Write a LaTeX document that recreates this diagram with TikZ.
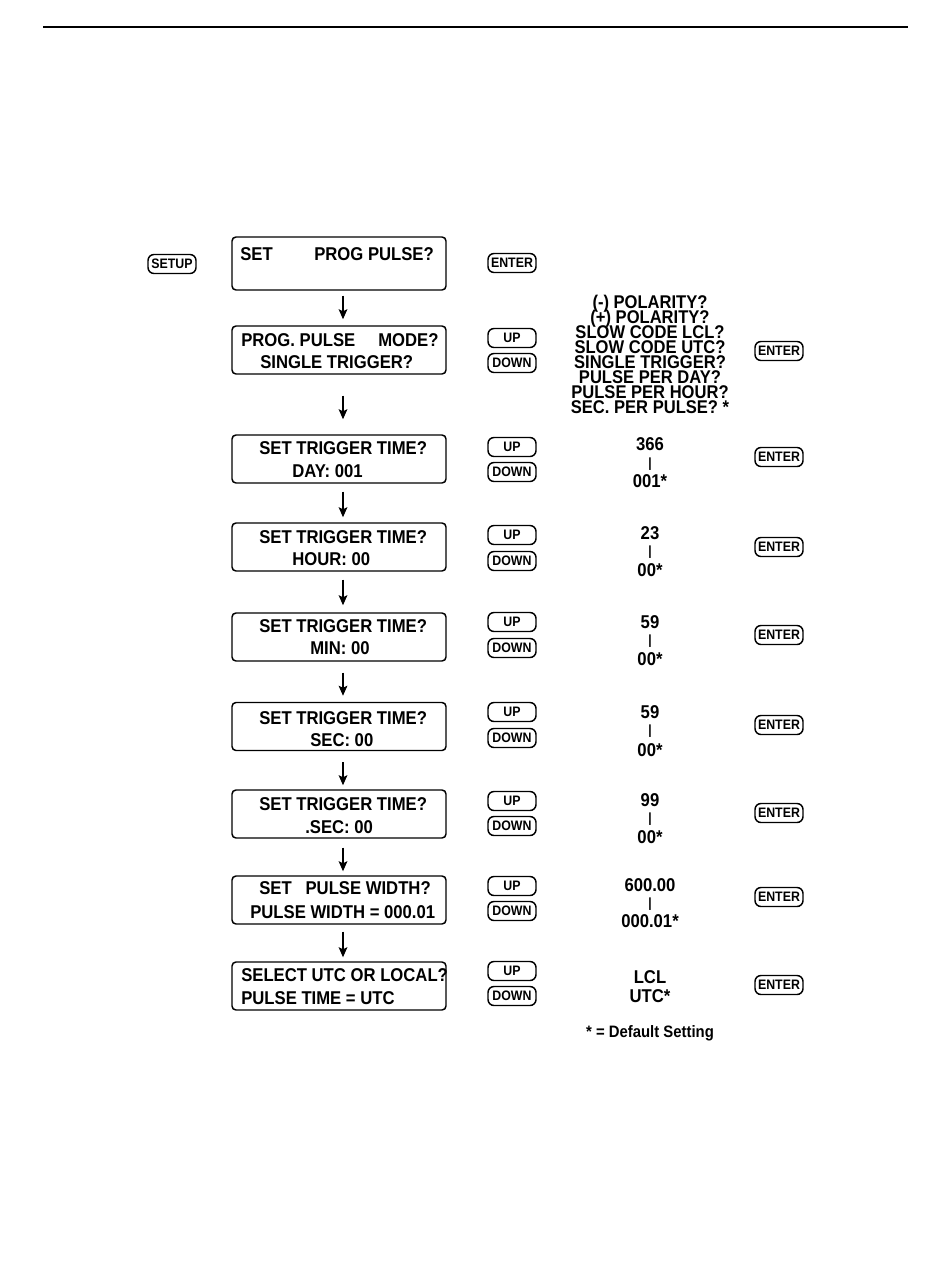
\documentclass[tikz,border=0pt]{standalone}
\usepackage{fontspec}
\setmainfont{Liberation Sans}[FakeStretch=0.9]
\usetikzlibrary{arrows.meta}
\tikzset{
  lcd/.style={draw, line width=1.1pt, rounded corners=3pt, minimum width=160.5pt, minimum height=36pt, inner sep=0pt},
  btn/.style={draw, line width=1.1pt, rounded corners=4.5pt, minimum width=36pt, minimum height=14.25pt, inner sep=0pt, font=\bfseries\fontsize{10.3}{11}\selectfont},
  txt/.style={inner sep=0pt, anchor=base west, font=\bfseries\fontsize{13.9}{15}\selectfont},
  val/.style={inner sep=0pt, anchor=base, font=\bfseries\fontsize{13.9}{15}\selectfont},
  modetxt/.style={inner sep=0pt, anchor=base, text height=9pt, text depth=1.5pt, font=\bfseries\fontsize{13.8}{14}\selectfont},
  bar/.style={inner sep=0pt, anchor=center, font=\bfseries\fontsize{10}{11}\selectfont},
  arr/.style={line width=1.1pt, -{Stealth[length=7.5pt,width=6.5pt,inset=1.5pt]}}
}
\begin{document}
\begin{tikzpicture}[x=0.75pt,y=-0.75pt]
\useasboundingbox (0,0) rectangle (950,1284);
\coordinate (hl) at (43,27);
\coordinate (hr) at (908,27);
\draw[line width=1.5pt] (hl) -- (hr);

% LCD boxes
\node[lcd, minimum height=39.75pt] (b1) at (339,263.5) {};
\node[lcd] (b2) at (339,350) {};
\node[lcd] (b3) at (339,459) {};
\node[lcd] (b4) at (339,547) {};
\node[lcd] (b5) at (339,637) {};
\node[lcd] (b6) at (339,726.5) {};
\node[lcd] (b7) at (339,814) {};
\node[lcd] (b8) at (339,900) {};
\node[lcd] (b9) at (339,986) {};

% box texts
\node[txt] (t1a) at (240,260) {SET};
\node[txt] (t1b) at (314,260) {PROG PULSE?};
\node[txt] (t2a) at (241,346) {PROG. PULSE};
\node[txt] (t2b) at (378,346) {MODE?};
\node[txt] (t2c) at (260,368) {SINGLE TRIGGER?};
\node[txt] (t3a) at (259,454) {SET TRIGGER TIME?};
\node[txt] (t3b) at (292,477) {DAY: 001};
\node[txt] (t4a) at (259,543) {SET TRIGGER TIME?};
\node[txt] (t4b) at (292,565) {HOUR: 00};
\node[txt] (t5a) at (259,632) {SET TRIGGER TIME?};
\node[txt] (t5b) at (310,654) {MIN: 00};
\node[txt] (t6a) at (259,724) {SET TRIGGER TIME?};
\node[txt] (t6b) at (310,746) {SEC: 00};
\node[txt] (t7a) at (259,810) {SET TRIGGER TIME?};
\node[txt] (t7b) at (305,833) {.SEC: 00};
\node[txt] (t8a) at (259,894) {SET\ \ \ PULSE WIDTH?};
\node[txt] (t8b) at (250,918) {PULSE WIDTH = 000.01};
\node[txt] (t9a) at (241,981) {SELECT UTC OR LOCAL?};
\node[txt] (t9b) at (241,1004) {PULSE TIME = UTC};

% arrows
\draw[arr, shorten <=3.75pt, shorten >=4.5pt] ([xshift=3pt]b1.south) -- ([xshift=3pt]b2.north);
\draw[arr, shorten <=15.75pt, shorten >=11.25pt] ([xshift=3pt]b2.south) -- ([xshift=3pt]b3.north);
\draw[arr, shorten <=6pt, shorten >=3.75pt] ([xshift=3pt]b3.south) -- ([xshift=3pt]b4.north);
\draw[arr, shorten <=6pt, shorten >=5.25pt] ([xshift=3pt]b4.south) -- ([xshift=3pt]b5.north);
\draw[arr, shorten <=8.25pt, shorten >=4.5pt] ([xshift=3pt]b5.south) -- ([xshift=3pt]b6.north);
\draw[arr, shorten <=8.25pt, shorten >=3pt] ([xshift=3pt]b6.south) -- ([xshift=3pt]b7.north);
\draw[arr, shorten <=6.75pt, shorten >=3pt] ([xshift=3pt]b7.south) -- ([xshift=3pt]b8.north);
\draw[arr, shorten <=5.25pt, shorten >=3pt] ([xshift=3pt]b8.south) -- ([xshift=3pt]b9.north);

% buttons
\node[btn] (setup) at (172,264) {SETUP};
\node[btn] (e1) at (512,263) {ENTER};
\foreach \n/\u/\d in {2/338/363, 3/447/472, 4/535/561, 5/622/648, 6/712/738, 7/801/826, 8/886/911, 9/971/996}{
  \node[btn] (up\n) at (512,\u) {UP};
  \node[btn] (dn\n) at (512,\d) {DOWN};
}
\foreach \n/\y in {2/351, 3/457, 4/547, 5/635, 6/725, 7/813, 8/897, 9/985}{
  \node[btn] (en\n) at (779,\y) {ENTER};
}

% mode list
\foreach \t [count=\i] in {(-) POLARITY?, (+) POLARITY?, SLOW CODE LCL?, SLOW CODE UTC?, SINGLE TRIGGER?, PULSE PER DAY?, PULSE PER HOUR?, SEC. PER PULSE? *}{
  \node[modetxt] (m\i) at (650,{293.5+15*\i}) {\t};
}

% value ranges
\foreach \n/\hi/\lo/\yh/\yb/\yl in {3/366/001*/450.5/464/487.5, 4/23/00*/539.5/552/576.5, 5/59/00*/628.5/641/665.5, 6/59/00*/718.5/731/756.5, 7/99/00*/806.5/819/843.5, 8/600.00/000.01*/891.5/904/927.5}{
  \node[val] (hi\n) at (650,\yh) {\hi};
  \node[bar] (bar\n) at (650,\yb) {|};
  \node[val] (lo\n) at (650,\yl) {\lo};
}
\node[val] (lcl) at (650,983.5) {LCL};
\node[val] (utc) at (650,1002.5) {UTC*};
\node[val, font=\bfseries\fontsize{12.4}{14}\selectfont] (note) at (650,1037) {* = Default Setting};
\end{tikzpicture}
\end{document}
